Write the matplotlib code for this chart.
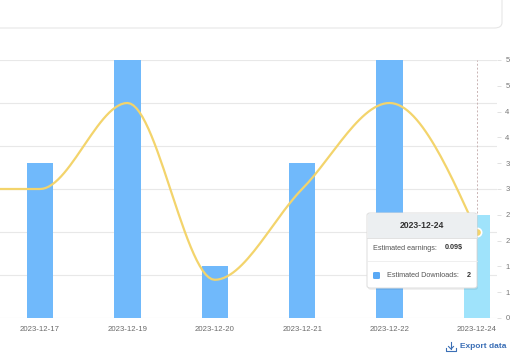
import numpy as np
import matplotlib
matplotlib.use("Agg")
import matplotlib.pyplot as plt
from matplotlib.patches import FancyBboxPatch, Rectangle
from matplotlib.lines import Line2D

plt.rcParams['font.family'] = ['Liberation Sans', 'DejaVu Sans']

# data (first category lies just outside the visible window)
dates = ["2023-12-16", "2023-12-17", "2023-12-19", "2023-12-20",
         "2023-12-21", "2023-12-22", "2023-12-24"]
downloads = [3, 3, 5, 1, 3, 5, 2]
earnings = [0.135, 0.135, 0.225, 0.04, 0.135, 0.225, 0.09]
download_ticks = [0, 0.5, 1, 1.5, 2, 2.5, 3, 3.5, 4, 4.5, 5]
hover_idx = 6

W, H = 515, 363
BAR = '#70b9fb'
BAR_HOVER = '#9fe3fb'
LINE = '#f3d46c'


def fx(x):
    return x / W


def fy(y):
    return 1 - y / H


def monotone(x, y, n=30):
    # monotone cubic (d3 curveMonotoneX style) for drawing the smooth line
    x = np.asarray(x, float)
    y = np.asarray(y, float)
    h = np.diff(x)
    s = np.diff(y) / h
    t = np.zeros_like(y)
    for i in range(1, len(y) - 1):
        p = (s[i - 1] * h[i] + s[i] * h[i - 1]) / (h[i - 1] + h[i])
        t[i] = (np.sign(s[i - 1]) + np.sign(s[i])) * min(abs(s[i - 1]), abs(s[i]), 0.5 * abs(p))
    t[0] = (3 * s[0] - t[1]) / 2
    t[-1] = (3 * s[-1] - t[-2]) / 2
    xs, ys = [], []
    for i in range(len(x) - 1):
        u = np.linspace(0, 1, n)
        h00 = 2 * u**3 - 3 * u**2 + 1
        h10 = u**3 - 2 * u**2 + u
        h01 = -2 * u**3 + 3 * u**2
        h11 = u**3 - u**2
        xs.append(x[i] + u * h[i])
        ys.append(h00 * y[i] + h10 * h[i] * t[i] + h01 * y[i + 1] + h11 * h[i] * t[i + 1])
    return np.concatenate(xs), np.concatenate(ys)


fig = plt.figure(figsize=(W / 100, H / 100), dpi=100)
fig.patch.set_facecolor('white')

# card border at top
card = FancyBboxPatch((fx(-20), fy(28)), fx(522), fy(-40) - fy(28),
                      boxstyle="round,pad=0,rounding_size=0.015",
                      transform=fig.transFigure, fc='white', ec='#e6e6e6', lw=0.8)
fig.patches.append(card)

ax = fig.add_axes([0, fy(318), fx(497), fy(60) - fy(318)])
ax2 = ax.twinx()
ax.set_zorder(1)
ax2.set_zorder(2)
ax2.patch.set_visible(False)

x = np.arange(len(dates))
xl = (0.542, 6.23)

# downloads bars on the right axis
colors = [BAR_HOVER if i == hover_idx else BAR for i in range(len(dates))]
ax2.bar(x, downloads, width=0.3, color=colors, zorder=2)
ax2.set_ylim(0, 5)
ax2.set_yticks(download_ticks)
ax2.set_yticklabels([str(int(np.floor(v + 0.5))) for v in download_ticks])
ax2.tick_params(axis='y', length=3, width=0.6, color='#dddddd', pad=3,
                labelsize=5.5, labelcolor='#777777')
for sp in ax2.spines.values():
    sp.set_visible(False)

# earnings line on the hidden left axis
lx, ly = monotone(x, earnings)
ax2.plot(lx, np.array(ly) / 0.27 * 5, color=LINE, lw=1.6, zorder=3, solid_capstyle='round')
ax2.plot(x[hover_idx], earnings[hover_idx] / 0.27 * 5, 'o', ms=6, mfc=LINE,
         mec='white', mew=1.2, zorder=4)
ax2.axvline(x[hover_idx], color='#c9b3b3', lw=0.7, ls=(0, (2, 2)), zorder=1)

ax.set_ylim(0, 0.27)
ax.set_yticks(np.arange(0, 0.271, 0.045))
ax.grid(axis='y', color='#e8e8e8', lw=0.8)
ax.tick_params(axis='y', left=False, labelleft=False)
ax.set_xticks(x)
ax.set_xticklabels(dates)
ax.tick_params(axis='x', length=0, pad=6, labelsize=5.6, labelcolor='#6a6a6a')
ax2.tick_params(axis='x', length=0)
ax.set_xlim(*xl)
ax2.set_xlim(*xl)
for sp in ax.spines.values():
    sp.set_visible(False)
ax.set_facecolor('white')

# tooltip
tx0, tx1, ty0, ty1 = 367, 477, 213, 288
shadow = FancyBboxPatch((fx(tx0 + 1), fy(ty1 + 2)), fx(tx1 - tx0), fy(ty0) - fy(ty1),
                        boxstyle="round,pad=0,rounding_size=0.006", transform=fig.transFigure,
                        fc='#000000', ec='none', alpha=0.06, zorder=10)
box = FancyBboxPatch((fx(tx0), fy(ty1)), fx(tx1 - tx0), fy(ty0) - fy(ty1),
                     boxstyle="round,pad=0,rounding_size=0.006", transform=fig.transFigure,
                     fc='white', ec='#dcdcdc', lw=0.7, zorder=11)
head = Rectangle((fx(tx0 + 0.5), fy(238)), fx(tx1 - tx0 - 1), fy(ty0 + 0.6) - fy(238),
                 transform=fig.transFigure, fc='#eceff1', ec='none', zorder=12)
fig.patches.extend([shadow, box, head])
fig.lines.append(Line2D([fx(tx0), fx(tx1)], [fy(238), fy(238)], transform=fig.transFigure,
                        color='#dddddd', lw=0.6, zorder=13))
fig.lines.append(Line2D([fx(tx0), fx(tx1)], [fy(261), fy(261)], transform=fig.transFigure,
                        color='#ececec', lw=0.6, zorder=13))
fig.text(fx(422), fy(226), dates[hover_idx], ha='center', va='center', fontsize=6.2,
         fontweight='bold', color='#333333', zorder=14)
fig.text(fx(373), fy(248), "Estimated earnings:", ha='left', va='center', fontsize=5.2,
         color='#555555', zorder=14)
fig.text(fx(445), fy(248), f"{earnings[hover_idx]:.2f}$", ha='left', va='center', fontsize=5.2,
         fontweight='bold', color='#333333', zorder=14)
mk = FancyBboxPatch((fx(373), fy(279)), fx(7), fy(272) - fy(279),
                    boxstyle="round,pad=0,rounding_size=0.003", transform=fig.transFigure,
                    fc='#5aa9f5', ec='none', zorder=14)
fig.patches.append(mk)
fig.text(fx(387), fy(275.5), "Estimated Downloads:", ha='left', va='center', fontsize=5.2,
         color='#555555', zorder=14)
fig.text(fx(467), fy(275.5), str(downloads[hover_idx]), ha='left', va='center', fontsize=5.2,
         fontweight='bold', color='#333333', zorder=14)

# export link
fig.text(fx(460), fy(347), "Export data", ha='left', va='center', fontsize=6,
         fontweight='bold', color='#3b6fb6')
ic = '#3b6fb6'
fig.lines.append(Line2D([fx(451), fx(451)], [fy(342), fy(349)], transform=fig.transFigure, color=ic, lw=0.8))
fig.lines.append(Line2D([fx(448.5), fx(451), fx(453.5)], [fy(346.5), fy(349), fy(346.5)],
                        transform=fig.transFigure, color=ic, lw=0.8))
fig.lines.append(Line2D([fx(446), fx(446), fx(456), fx(456)], [fy(348), fy(351), fy(351), fy(348)],
                        transform=fig.transFigure, color=ic, lw=0.8))

fig.savefig("out.png", dpi=100, facecolor='white')
